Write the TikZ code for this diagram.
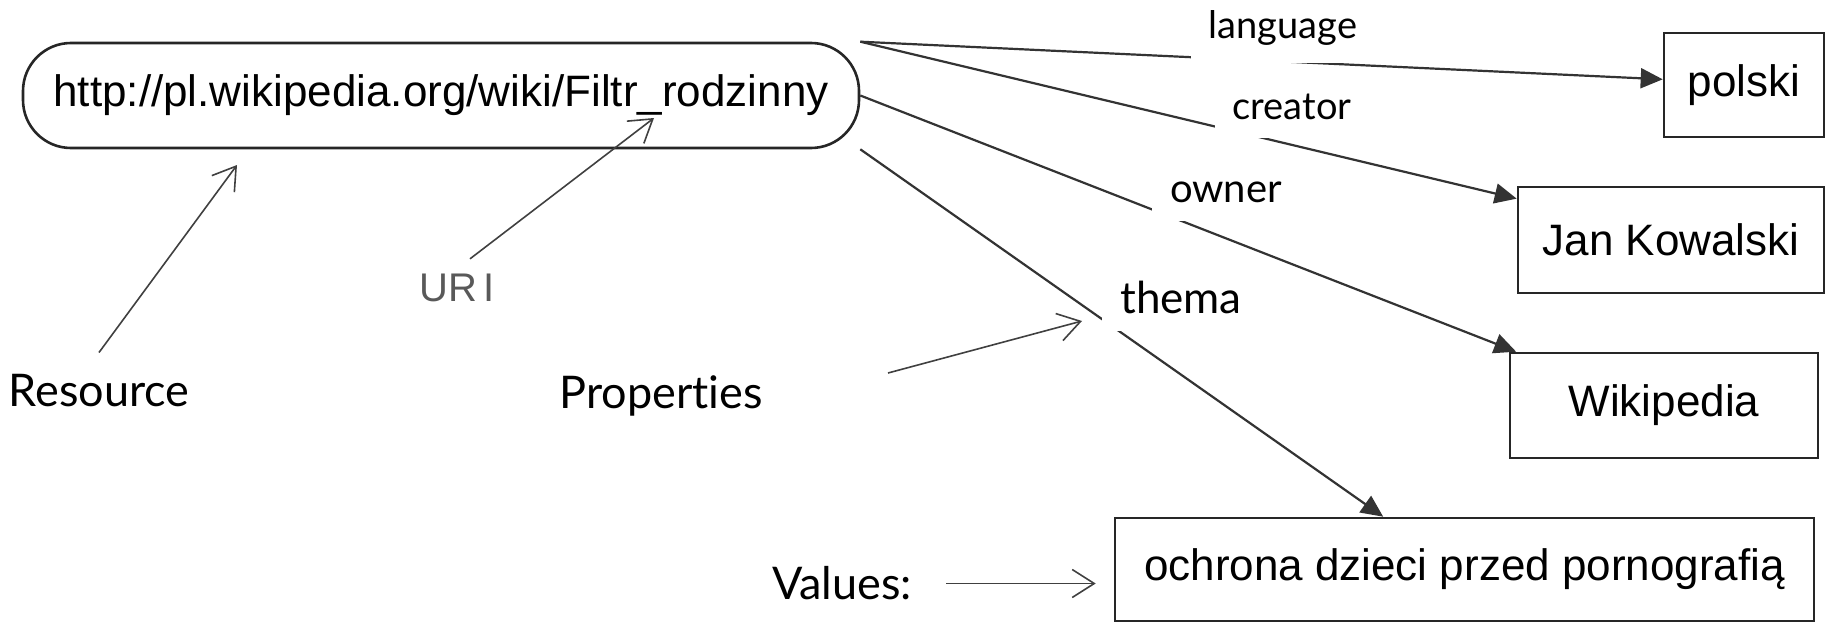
\documentclass[tikz,border=0pt]{standalone}
\usepackage{fontspec}
\setmainfont{Liberation Sans}
\newfontfamily\gill[Ligatures=NoCommon]{Lato}
\usetikzlibrary{arrows.meta}

\begin{document}
\begin{tikzpicture}[x=1pt,y=-1pt,
  box/.style={draw=black!85,line width=2.6pt,inner sep=0pt,font=\fontsize{44}{50}\selectfont},
  rdf/.style={black!80,line width=2.2pt,-{Triangle[length=22pt,width=20pt]}},
  note/.style={black!75,line width=1.6pt,-{Straight Barb[length=22pt,width=28pt]}},
  prop/.style={fill=white,inner sep=18pt,font=\gill\fontsize{38}{44}\selectfont},
  tag/.style={inner sep=0pt,font=\gill\fontsize{45}{52}\selectfont}]
  \useasboundingbox (0,0) rectangle (1833,623);

  \node[box,rounded corners=48pt,minimum width=836pt,minimum height=105pt] (res) at (441,95.5) {http://pl.wikipedia.org/wiki/Filtr\_rodzinny};
  \node[box,minimum width=160pt,minimum height=104pt] (pl) at (1744,85) {polski};
  \node[box,minimum width=306pt,minimum height=106pt] (jk) at (1671,240) {Jan Kowalski};
  \node[box,minimum width=308pt,minimum height=105pt] (wiki) at (1664,405.5) {Wikipedia};
  \node[box,minimum width=699pt,minimum height=103pt] (ochr) at (1464.5,569.5) {ochrona dzieci przed pornografią};

  \node[tag] (resLbl) at (99,391) {Resource};
  \node[tag] (propLbl) at (661,396) {Properties};
  \node[tag] (valLbl) at (842,583.5) {Values:};
  \node[inner sep=0pt,text=black!65,font=\fontsize{40}{46}\selectfont] (uriLbl) at (457,288) {UR\kern6pt I};

  \coordinate (resPt) at (237,165);
  \coordinate (uriPt) at (654,118);
  \coordinate (propTail) at (888,373);
  \coordinate (propHead) at (1082,321);

  \draw[note] ([yshift=22pt]resLbl.north) -- (resPt);
  \draw[note] ([shift={(13,-15)}]uriLbl.north) -- (uriPt);
  \draw[note] (propTail) -- (propHead);
  \draw[note,shorten >=18pt] ([xshift=34pt]valLbl.east) -- (valLbl.east -| ochr.west);

  \draw[rdf] (res.north east) -- (pl.176);
  \draw[rdf] (res.north east) -- (jk.165);
  \draw[rdf] (res.east) -- (wiki.160);
  \draw[rdf] (res.south east) -- (ochr.147);

  \node[prop] (lang) at (1283,28) {language};
  \node[prop] (creator) at (1292,107) {creator};
  \node[prop,font=\gill\fontsize{40}{46}\selectfont] (owner) at (1226,192.5) {owner};
  \node[prop,font=\gill\fontsize{44}{50}\selectfont] (thema) at (1181,297) {thema};
\end{tikzpicture}
\end{document}
